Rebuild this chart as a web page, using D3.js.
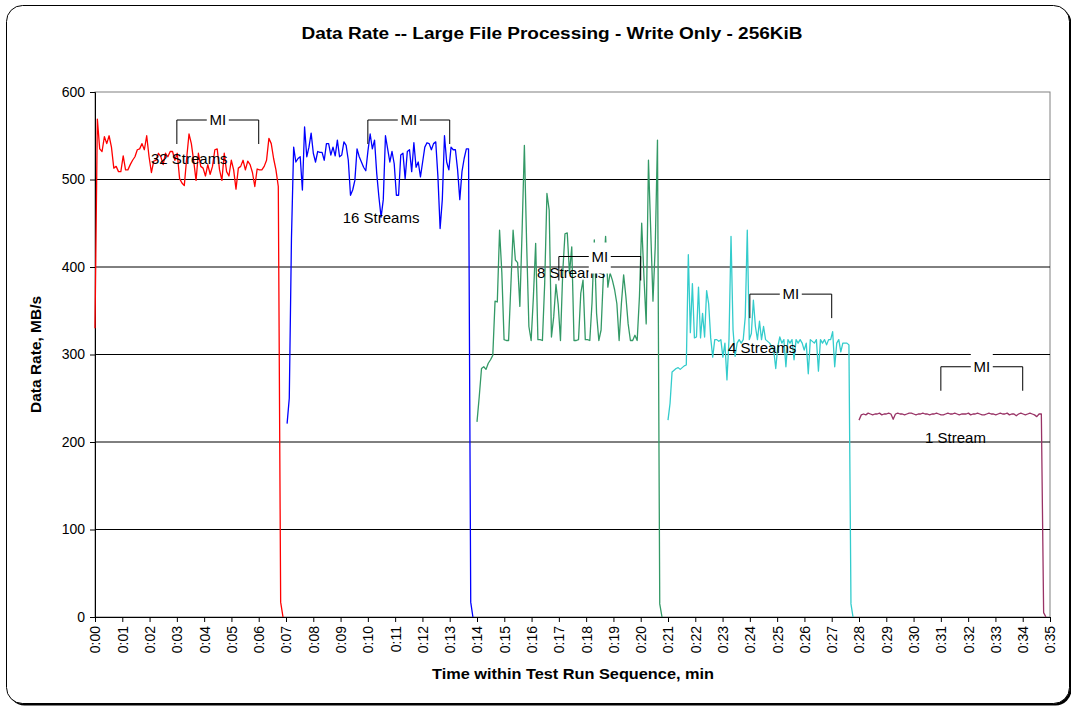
<!DOCTYPE html>
<html>
<head>
<meta charset="utf-8">
<script src="https://cdn.jsdelivr.net/npm/d3@7"></script>
<style>
  html, body { margin: 0; padding: 0; background: #fff; }
  svg { display: block; font-family: "Liberation Sans", Arial, sans-serif; }
</style>
</head>
<body>
<svg id="chart" width="1071" height="707"></svg>
<script>
// ---------------- DATA ----------------
const chartTitle = "Data Rate -- Large File Processing - Write Only - 256KiB";
const xTitle = "Time within Test Run Sequence, min";
const yTitle = "Data Rate, MB/s";

const yTicks = [0, 100, 200, 300, 400, 500, 600];
const xTickMinutes = d3.range(0, 36);            // 0:00 .. 0:35
const xTickLabels = xTickMinutes.map(m => "0:" + String(m).padStart(2, "0"));

// series: start / end time (minutes) with evenly spaced samples
const seriesNames  = ["32 Streams", "16 Streams", "8 Streams", "4 Streams", "1 Stream"];
const seriesColors = ["#FF0000", "#0000FF", "#339966", "#33CCCC", "#993366"];
const seriesStart  = [0, 7.04, 14.0, 21.0, 28.0];
const seriesEnd    = [6.89, 13.85, 20.78, 27.78, 34.85];

const rate32 = [330, 569, 535, 532, 549, 541, 550, 537, 513, 515, 509, 509, 527, 511, 511, 517, 522, 526, 534, 535,
  541, 534, 550, 526, 508, 521, 522, 530, 526, 517, 530, 526, 532, 532, 522, 530, 501, 496, 493, 524,
  552, 541, 521, 499, 530, 515, 513, 504, 517, 506, 515, 534, 535, 511, 499, 530, 509, 504, 522, 511,
  489, 513, 515, 522, 511, 521, 517, 508, 492, 512, 511, 511, 515, 522, 547, 541, 524, 511, 492, 17, 0];

const rate16 = [221, 250, 433, 537, 520, 524, 526, 488, 560, 526, 537, 553, 530, 520, 532, 531, 531, 522, 541, 541,
  528, 537, 527, 545, 526, 528, 543, 539, 522, 482, 488, 499, 535, 526, 520, 514, 510, 533, 552, 535,
  545, 507, 480, 457, 477, 550, 535, 520, 532, 518, 482, 482, 528, 530, 501, 532, 534, 509, 542, 514,
  520, 503, 520, 537, 542, 541, 534, 541, 543, 503, 444, 477, 550, 520, 511, 537, 534, 534, 511, 477,
  509, 524, 535, 535, 17, 0];

const rate8 = [223, 252, 284, 286, 283, 290, 294, 299, 361, 360, 442, 394, 317, 316, 316, 378, 442, 408, 405, 355,
  442, 539, 427, 332, 316, 366, 427, 317, 317, 316, 381, 484, 465, 320, 343, 380, 357, 316, 394, 438,
  439, 393, 423, 316, 316, 317, 370, 385, 317, 317, 316, 360, 431, 347, 316, 328, 389, 435, 377, 393,
  385, 374, 358, 316, 358, 391, 366, 335, 316, 316, 322, 316, 366, 450, 389, 335, 522, 442, 361, 423,
  545, 15, 0];

const rate4 = [225, 244, 280, 282, 284, 285, 283, 285, 287, 288, 414, 325, 381, 319, 320, 377, 319, 347, 320, 373,
  358, 319, 297, 317, 317, 315, 317, 297, 313, 271, 317, 435, 328, 298, 313, 317, 313, 317, 343, 442,
  317, 324, 362, 332, 317, 338, 317, 332, 317, 315, 313, 309, 305, 284, 309, 320, 313, 317, 286, 317,
  313, 317, 294, 317, 313, 317, 313, 305, 313, 278, 317, 315, 313, 317, 281, 317, 313, 317, 311, 317,
  317, 326, 286, 313, 317, 303, 313, 313, 313, 311, 15, 0];

const rate1 = [225, 231, 232, 231, 233, 232, 231, 232, 232, 233, 231, 232, 232, 233, 232, 226, 232, 233, 232, 232,
  231, 232, 233, 233, 232, 231, 232, 232, 233, 232, 232, 231, 232, 232, 233, 232, 231, 231, 232, 233,
  232, 232, 233, 232, 231, 232, 232, 232, 233, 231, 232, 232, 233, 232, 231, 231, 232, 233, 232, 232,
  231, 232, 233, 232, 232, 233, 231, 232, 232, 230, 232, 233, 232, 231, 232, 233, 232, 231, 229, 232,
  232, 5, 0];

const seriesValues = [rate32, rate16, rate8, rate4, rate1];

// stream labels: [minute at text start, value at text middle]
const labelMinute = [2.05, 9.08, 16.2, 23.2, 30.42];
const labelValue  = [524, 456, 394, 308, 205];

// "MI" measurement interval brackets: start min, end min, top value
const miStart = [3, 10, 17, 24, 31];
const miEnd   = [6, 13, 20, 27, 34];
const miTop   = [568, 568, 412, 369, 286];

// ---------------- CHART ----------------
const svg = d3.select("#chart");
const plot = { left: 95, right: 1050, top: 92, bottom: 617 };
const FONT = "'Liberation Sans', Arial, sans-serif";

// outer frame with shadow
svg.append("rect").attr("x", 8.5).attr("y", 7.5).attr("width", 1063).attr("height", 698)
  .attr("rx", 16).attr("fill", "#000");
svg.append("rect").attr("x", 6.5).attr("y", 5.5).attr("width", 1063).attr("height", 698)
  .attr("rx", 16).attr("fill", "#fff").attr("stroke", "#000").attr("stroke-width", 1);

const x = d3.scaleLinear().domain([0, 35]).range([plot.left, plot.right]);
const y = d3.scaleLinear().domain([0, 600]).range([plot.bottom, plot.top]);

// plot background + border
svg.append("rect").attr("x", plot.left).attr("y", plot.top)
  .attr("width", plot.right - plot.left).attr("height", plot.bottom - plot.top)
  .attr("fill", "#fff").attr("stroke", "#808080").attr("stroke-width", 1);

// gridlines
svg.append("g").selectAll("line").data(yTicks.filter(v => v > 0 && v < 600)).join("line")
  .attr("x1", plot.left).attr("x2", plot.right)
  .attr("y1", d => y(d)).attr("y2", d => y(d))
  .attr("stroke", "#000").attr("stroke-width", 1);

// y axis
const yAxis = d3.axisLeft(y).tickValues(yTicks).tickSize(5).tickPadding(5);
const gy = svg.append("g").attr("transform", `translate(${plot.left},0)`).call(yAxis);
gy.select(".domain").attr("stroke", "#000");
gy.selectAll(".tick line").attr("stroke", "#000");
gy.selectAll("text").attr("font-size", 14).attr("fill", "#000").attr("font-family", FONT);

// x axis
const xAxis = d3.axisBottom(x).tickValues(xTickMinutes).tickSize(5)
  .tickFormat((d, i) => xTickLabels[i]);
const gx = svg.append("g").attr("transform", `translate(0,${plot.bottom})`).call(xAxis);
gx.select(".domain").attr("stroke", "#000");
gx.selectAll(".tick line").attr("stroke", "#000");
gx.selectAll("text")
  .attr("font-size", 14).attr("fill", "#000").attr("font-family", FONT)
  .attr("transform", "rotate(-90)")
  .attr("text-anchor", "end")
  .attr("x", -9).attr("y", 0).attr("dy", "0.35em");

// series lines
const line = d3.line().x(d => x(d[0])).y(d => y(d[1]));
seriesValues.forEach((vals, s) => {
  const n = vals.length;
  const step = (seriesEnd[s] - seriesStart[s]) / (n - 1);
  const pts = vals.map((v, i) => [seriesStart[s] + i * step, v]);
  svg.append("path").datum(pts)
    .attr("d", line)
    .attr("fill", "none")
    .attr("stroke", seriesColors[s])
    .attr("stroke-width", 1.3)
    .attr("stroke-linejoin", "round");
});

// stream labels
svg.append("g").selectAll("text").data(seriesNames).join("text")
  .attr("x", (d, i) => x(labelMinute[i]))
  .attr("y", (d, i) => y(labelValue[i]))
  .attr("dy", "0.35em")
  .attr("font-size", 15)
  .attr("fill", "#000")
  .text(d => d);

// MI brackets
const miG = svg.append("g");
miStart.forEach((s, i) => {
  const x1 = x(s), x2 = x(miEnd[i]), yt = y(miTop[i]);
  const legs = 24;
  miG.append("path")
    .attr("d", `M${x1},${yt + legs}V${yt}H${x2}V${yt + legs}`)
    .attr("fill", "none").attr("stroke", "#000").attr("stroke-width", 1);
  const cx = (x1 + x2) / 2;
  miG.append("rect").attr("x", cx - 11).attr("y", yt - 14).attr("width", 22).attr("height", 31)
    .attr("fill", "#fff");
  miG.append("text").attr("x", cx).attr("y", yt).attr("dy", "0.35em")
    .attr("text-anchor", "middle").attr("font-size", 15).attr("fill", "#000").text("MI");
});

// title
svg.append("text").attr("x", 552).attr("y", 33).attr("dy", "0.35em")
  .attr("text-anchor", "middle").attr("font-size", 16).attr("font-weight", "bold")
  .attr("textLength", 501).attr("lengthAdjust", "spacingAndGlyphs")
  .text(chartTitle);

// x title
svg.append("text").attr("x", 573).attr("y", 674).attr("dy", "0.35em")
  .attr("text-anchor", "middle").attr("font-size", 15).attr("font-weight", "bold")
  .attr("textLength", 282).attr("lengthAdjust", "spacingAndGlyphs")
  .text(xTitle);

// y title (clipped at top as in original)
svg.append("clipPath").attr("id", "yclip").append("rect")
  .attr("x", 0).attr("y", 291).attr("width", 80).attr("height", 400);
svg.append("g").attr("clip-path", "url(#yclip)")
  .append("text")
  .attr("transform", "translate(36,413) rotate(-90)")
  .attr("dy", "0.35em")
  .attr("text-anchor", "start").attr("font-size", 15.5).attr("font-weight", "bold")
  .text(yTitle);
</script>
</body>
</html>
